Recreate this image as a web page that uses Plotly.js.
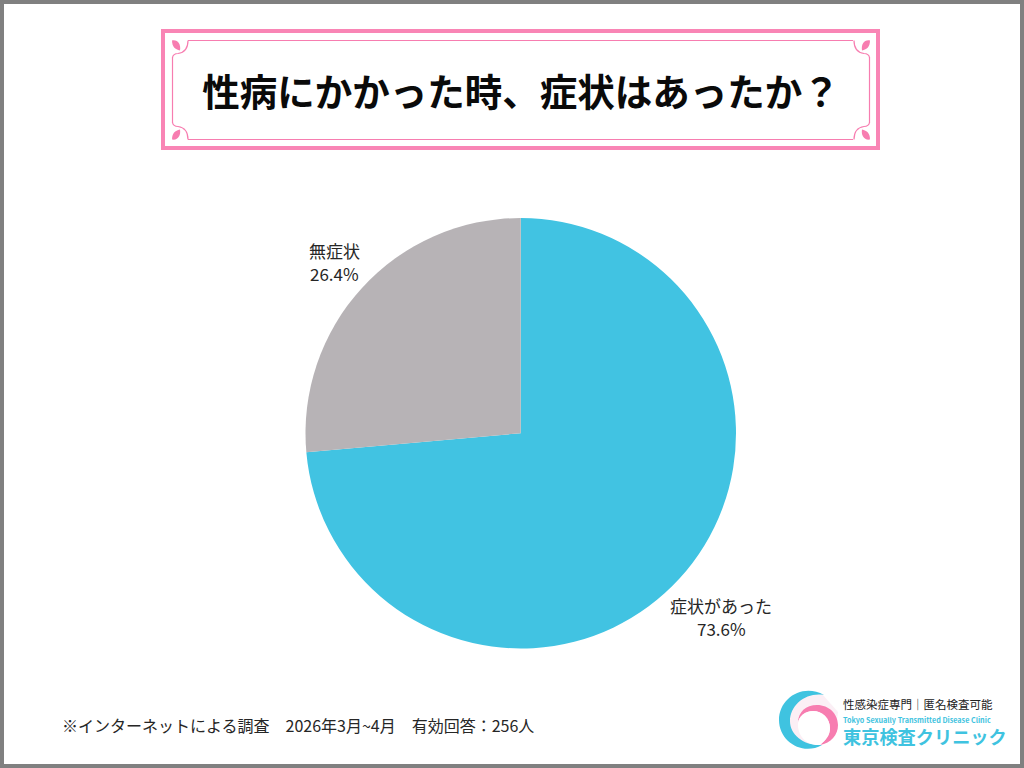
<!DOCTYPE html>
<html><head><meta charset="utf-8">
<script src="https://cdn.plot.ly/plotly-3.0.1.min.js"></script>
<style>html,body{margin:0;padding:0;background:#fff;overflow:hidden}#c{width:1024px;height:768px}</style>
</head><body><div id="c"></div>
<script>
const categories = ['症状があった', '無症状'];
const values = [73.6, 26.4];
const sliceColors = ['#41C3E2', '#B7B3B6'];
const chartTitle = '性病にかかった時、症状はあったか？';
const footnote = '※インターネットによる調査　2026年3月~4月　有効回答：256人';
const logoTop = '性感染症専門｜匿名検査可能';
const logoEn = 'Tokyo Sexually Transmitted Disease Clinic';
const logoJa = '東京検査クリニック';

const W = 1024, H = 768;
const FONT = '"Noto Sans CJK JP","Noto Sans",sans-serif';
const PINK = '#F77DB0', TEAL = '#3FC3E0';
const X = p => p / W, Y = p => 1 - p / H;
const rect = (x0, y0, x1, y1, o) => Object.assign({type:'rect',xref:'paper',yref:'paper',x0:X(x0),x1:X(x1),y0:Y(y1),y1:Y(y0),layer:'below'}, o);
const path = (tokens, o) => {
  let isX = true;
  const d = tokens.map(t => {
    if (typeof t === 'string') { isX = true; return t; }
    const v = isX ? X(t) : Y(t); isX = !isX; return v.toFixed(5);
  }).join(' ');
  return Object.assign({type:'path',xref:'paper',yref:'paper',path:d,layer:'above',line:{width:0}}, o);
};

// ornament: leaf in the corner plus the curl that joins the two frame lines
function corner(cx, cy, sx, sy) {
  const thin = {line:{color:PINK,width:1.2},fillcolor:'rgba(0,0,0,0)'};
  const P = (dx, dy) => [cx + sx*dx, cy + sy*dy];
  return [
    path(['M',...P(0,0),'C',...P(6,-1),...P(9,4),...P(8,10),'C',...P(3,9),...P(0,6),...P(0,0),'Z'], {fillcolor:PINK}),
    path(['M',...P(16,0),'C',...P(16,7),...P(13,12),...P(6,13),'C',...P(3,13),...P(1,14),...P(0.5,17)], thin)
  ];
}

const PIE = {cx:520.75, cy:433.25, r:215.25};
const LABEL_SIZE = 17;

const shapes = [
  rect(2, 2, 1022, 766, {line:{color:'#808080',width:4},fillcolor:'#ffffff'}),
  rect(163, 31, 878, 148, {line:{color:'#F985B5',width:4},fillcolor:'#ffffff'}),
  // frame lines, stopping short of each corner ornament
  path(['M',188,40.5,'L',853,40.5], {line:{color:PINK,width:1.2}}),
  path(['M',188,139.5,'L',853,139.5], {line:{color:PINK,width:1.2}}),
  path(['M',172.5,57,'L',172.5,123], {line:{color:PINK,width:1.2}}),
  path(['M',869.5,57,'L',869.5,123], {line:{color:PINK,width:1.2}}),
  ...corner(172, 40.5, 1, 1), ...corner(870, 40.5, -1, 1),
  ...corner(172, 139.5, 1, -1), ...corner(870, 139.5, -1, -1),
  // logo: pale disc, teal crescent, pink crescent
  path(['M',822,694,'C',805,692,789,705,789,721,'C',789,735,803,746,820,746,'L',835,735,'L',838,712,'Z'], {fillcolor:'#FBEFF5'}),
  path(['M',824,695,'C',803,683,779,698,779,720,'C',779,742,803,756,822,745,'C',804,746,790,735,790,721,'C',790,705,806,692,824,695,'Z'], {fillcolor:TEAL}),
  path(['M',798,723,'C',798,712,806,705,817,705,'C',829,705,838,714,838,725,'C',838,735,831,743,820,745,'C',826,740,830,735,830,728,'C',830,718,822,711,813,711,'C',805,711,799,716,798,723,'Z'], {fillcolor:PINK}),
  path(['M',798,723,'C',799,716,805,711,813,711,'C',822,711,830,718,830,728,'C',830,735,826,740,820,745,'C',806,746,797,735,798,723,'Z'], {fillcolor:'#ffffff'})
];

const data = [{
  type:'pie', labels:categories, values:values, sort:false, direction:'clockwise', rotation:0,
  marker:{colors:sliceColors,line:{width:0}},
  textinfo:'none', automargin:false,
  domain:{x:[X(PIE.cx-PIE.r),X(PIE.cx+PIE.r)],y:[Y(PIE.cy+PIE.r),Y(PIE.cy-PIE.r)]},
  showlegend:false, hoverinfo:'label+percent'
}];

const ann = (text, x, y, size, color, weight, anchor) => ({
  text, xref:'paper', yref:'paper', x:X(x), y:Y(y), xanchor:anchor||'left', yanchor:'middle',
  showarrow:false, font:{family:FONT,size,color,weight:weight||400}
});

// slice labels sit just outside the pie along each slice's middle angle
const total = values.reduce((a, b) => a + b, 0);
let acc = 0;
const sliceLabels = categories.flatMap((c, i) => {
  const mid = (acc + values[i] / 2) / total * 2 * Math.PI;
  acc += values[i];
  const hw = c.length * LABEL_SIZE / 2, hh = 23;
  const s = Math.sin(mid), k = -Math.cos(mid);
  const rad = PIE.r + 3.5 + hw * Math.abs(s) + hh * Math.abs(k);
  const lx = PIE.cx + rad * s, ly = PIE.cy + rad * k;
  return [
    ann(c, lx, ly - 11.5, LABEL_SIZE, '#262626', 400, 'center'),
    ann(values[i].toFixed(1) + '%', lx, ly + 11.5, LABEL_SIZE, '#262626', 400, 'center')
  ];
});

const layout = {
  width:W, height:H, margin:{l:0,r:0,t:0,b:0},
  paper_bgcolor:'#ffffff', plot_bgcolor:'#ffffff',
  title:{text:chartTitle, font:{family:FONT,size:37.5,color:'#0a0a0a',weight:700},
         x:X(521), y:Y(93), xref:'paper', yref:'paper', xanchor:'center', yanchor:'middle'},
  shapes,
  annotations:[
    ...sliceLabels,
    ann(footnote, 60, 725, 16, '#262626'),
    ann(logoTop, 841, 704, 11.5, '#222222'),
    ann(logoEn, 841, 720, 7.2, TEAL, 700),
    ann(logoJa, 841, 736, 18.2, TEAL, 700)
  ]
};
Plotly.newPlot('c', data, layout, {staticPlot:true, displayModeBar:false});
</script></body></html>
